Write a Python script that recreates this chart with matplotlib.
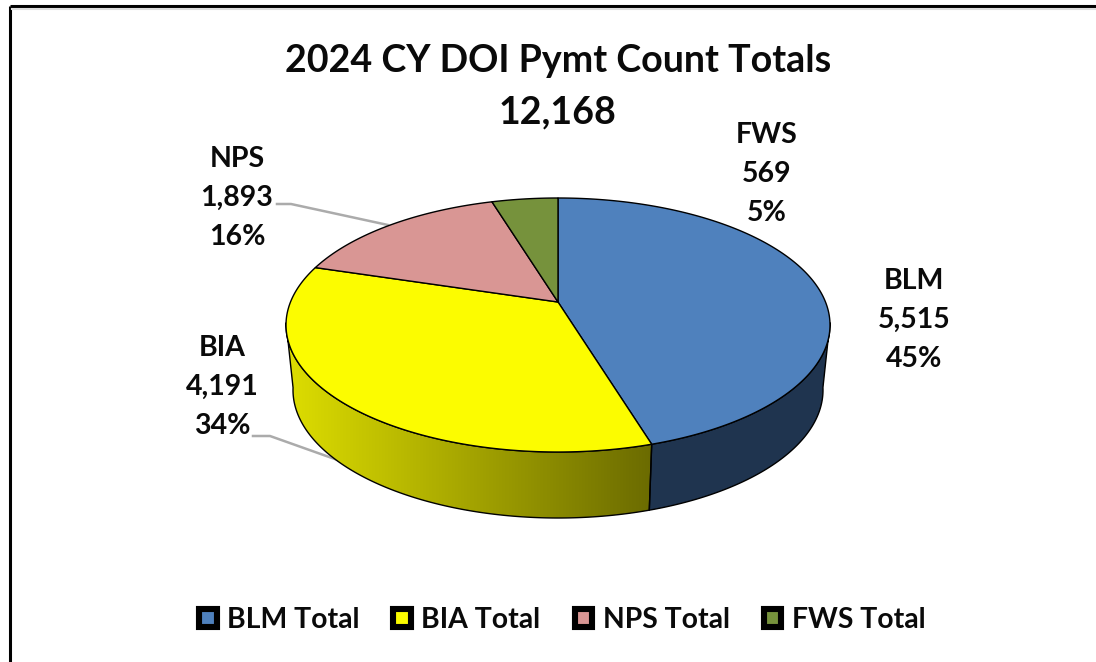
import numpy as np
import matplotlib
matplotlib.use("Agg")
import matplotlib.pyplot as plt
from matplotlib.patches import Patch, Polygon

plt.rcParams['font.family'] = ['Lato', 'DejaVu Sans']

names = ["BLM", "BIA", "NPS", "FWS"]
counts = [5515, 4191, 1893, 569]
top_colors = ["#4F81BD", "#FCFC00", "#D99694", "#76923C"]
wall_colors = ["#1F344F", None, None, None]
legend_labels = ["BLM Total", "BIA Total", "NPS Total", "FWS Total"]
label_pos = [(914, 320), (222, 387), (237, 198), (767, 174)]
chart_title = "2024 CY DOI Pymt Count Totals"

total = sum(counts)
W, H = 1096, 662

# ellipse geometry in pixels
cx, cy, rx, ry = 558, 325, 272, 127
cy2, rx2, ry2 = 390, 265, 128
boost = 0.181  # perspective, pushes the apex up from the ellipse centre


def project(t):
    # t is clockwise from 12 o'clock on the real circle
    u, v = np.sin(t), np.cos(t)
    d = 1 + boost * v
    return u * np.sqrt(1 - boost ** 2) / d, (v + boost) / d


def top_pt(u, v):
    return np.column_stack([cx + rx * u, cy - ry * v])


def bottom_pt(u, v):
    return np.column_stack([cx + rx2 * u, cy2 - ry2 * v])


fig = plt.figure(figsize=(W / 100, H / 100), dpi=100)
ax = fig.add_axes([0, 0, 1, 1])
ax.set_axis_off()

# frame of the original screenshot
ax.plot([10, 10], [H, 6], color="black", lw=2.2, solid_capstyle="butt", zorder=1)
ax.plot([10, W], [6, 6], color="black", lw=2.2, solid_capstyle="butt", zorder=1)
ax.plot([12, W], [8.5, 8.5], color="#DDDDDD", lw=1.5, zorder=1)

# leader lines
ax.plot([277, 291, 388], [204, 204, 225], color="#ABABAB", lw=1.8, zorder=2)
ax.plot([253, 270, 346], [436, 436, 463], color="#ABABAB", lw=1.8, zorder=2)

edges = np.cumsum([0] + counts) / total * 2 * np.pi
apex = top_pt(np.array([0.0]), np.array([boost]))[0]

# side walls first
for i in range(len(counts)):
    t = np.linspace(edges[i], edges[i + 1], 300)
    u, v = project(t)
    keep = v <= 0.02
    if not keep.any():
        continue
    upper = top_pt(u[keep], v[keep])
    lower = bottom_pt(u[keep], v[keep])
    wall = Polygon(np.vstack([upper, lower[::-1]]), closed=True, zorder=3,
                   facecolor=wall_colors[i] or "none", edgecolor="black", lw=1)
    ax.add_patch(wall)
    if wall_colors[i] is None:
        shade = np.linspace(0.87, 0.42, 256)
        grad = np.zeros((1, 256, 3))
        grad[0, :, 0] = shade
        grad[0, :, 1] = shade
        img = ax.imshow(grad, extent=[upper[:, 0].min(), upper[:, 0].max(), 530, 320],
                        aspect="auto", zorder=2.9)
        img.set_clip_path(wall)

# top faces
for i in range(len(counts)):
    t = np.linspace(edges[i], edges[i + 1], 300)
    u, v = project(t)
    rim = top_pt(u, v)
    ax.add_patch(Polygon(np.vstack([apex, rim]), closed=True, zorder=4,
                         facecolor=top_colors[i], edgecolor="black", lw=1,
                         joinstyle="round"))

ax.set_xlim(0, W)
ax.set_ylim(H, 0)

ax.text(558, 61, chart_title, ha="center", va="center", fontsize=27.1, fontweight="bold", color="#0A0A0A")
ax.text(558, 112, f"{total:,}", ha="center", va="center", fontsize=27.1, fontweight="bold", color="#0A0A0A")

for name, n, (x, y) in zip(names, counts, label_pos):
    ax.text(x, y, f"{name}\n{n:,}\n{round(100 * n / total)}%", ha="center", va="center",
            fontsize=20.5, fontweight="bold", color="#0A0A0A", linespacing=1.63, zorder=5)

handles = [Patch(facecolor=c, edgecolor="black", lw=4.4, joinstyle="round") for c in top_colors]
ax.legend(handles, legend_labels, loc="center", bbox_to_anchor=(562 / W, 1 - 620 / H),
          ncol=4, frameon=False, prop={"size": 20.4, "weight": "bold"}, labelcolor="#0A0A0A",
          handlelength=0.63, handleheight=0.63, handletextpad=0.36, columnspacing=1.2)

fig.savefig("out.png", dpi=100, facecolor="white")
